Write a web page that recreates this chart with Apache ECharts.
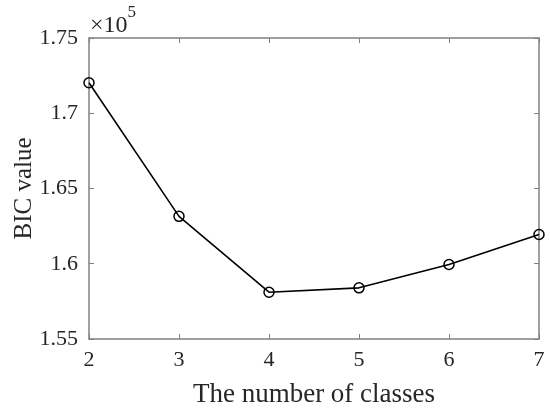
<!DOCTYPE html>
<html>
<head>
<meta charset="utf-8">
<script src="https://cdn.jsdelivr.net/npm/echarts@6/dist/echarts.min.js"></script>
<style>html,body{margin:0;padding:0;background:#fff}#c{width:550px;height:410px}</style>
</head>
<body>
<div id="c"></div>
<script>
const classes = [2, 3, 4, 5, 6, 7];
const bicValues = [1.7203, 1.6315, 1.5811, 1.5840, 1.5995, 1.6194]; // ×10^5
const yTicks = ['1.55', '1.6', '1.65', '1.7', '1.75'];

const font = '"Liberation Serif", "Times New Roman", serif';
const axisGray = '#808080';
const textCol = '#262626';

const chart = echarts.init(document.getElementById('c'), null, {renderer: 'canvas'});
const baseX = {
  type: 'value', min: 2, max: 7, interval: 1,
  axisLine: {show: true, lineStyle: {color: axisGray, width: 1.5}},
  axisTick: {show: true, inside: true, length: 5, lineStyle: {color: axisGray, width: 1}},
  splitLine: {show: false}
};
const baseY = {
  type: 'value', min: 1.55, max: 1.75, interval: 0.05,
  axisLine: {show: true, lineStyle: {color: axisGray, width: 1.5}},
  axisTick: {show: true, inside: true, length: 5, lineStyle: {color: axisGray, width: 1}},
  splitLine: {show: false}
};
chart.setOption({
  animation: false,
  backgroundColor: '#fff',
  grid: {left: 89, right: 11, top: 38, bottom: 71, containLabel: false, outerBoundsMode: 'none'},
  xAxis: [
    Object.assign({}, baseX, {
      position: 'bottom',
      name: 'The number of classes', nameLocation: 'middle', nameGap: 42, nameMoveOverlap: false,
      nameTextStyle: {fontFamily: font, fontSize: 27, color: textCol},
      axisLabel: {fontFamily: font, fontSize: 22, color: textCol, margin: 10}
    }),
    Object.assign({}, baseX, {position: 'top', axisLabel: {show: false}})
  ],
  yAxis: [
    Object.assign({}, baseY, {
      position: 'left',
      name: 'BIC value', nameLocation: 'middle', nameGap: 52, nameMoveOverlap: false,
      nameTextStyle: {fontFamily: font, fontSize: 25, color: textCol},
      axisLabel: {fontFamily: font, fontSize: 22, color: textCol, margin: 11,
        formatter: function (v) {
          const idx = Math.round((v - 1.55) / 0.05);
          return yTicks[idx] !== undefined ? yTicks[idx] : '';
        }}
    }),
    Object.assign({}, baseY, {position: 'right', axisLabel: {show: false}})
  ],
  graphic: [{
    type: 'text', left: 90, top: 4,
    style: {
      text: '{a|×10}{b|5}',
      rich: {
        a: {fontFamily: font, fontSize: 24, fill: textCol, verticalAlign: 'bottom', padding: [10, 0, 0, 0]},
        b: {fontFamily: font, fontSize: 17, fill: textCol, verticalAlign: 'top', padding: [0, 0, 13, 0]}
      }
    }
  }],
  series: [{
    type: 'line',
    data: classes.map((c, i) => [c, bicValues[i]]),
    symbol: 'circle', symbolSize: 10,
    itemStyle: {color: 'transparent', borderColor: '#000', borderWidth: 1.5},
    lineStyle: {color: '#000', width: 1.6},
    z: 5
  }]
});
</script>
</body>
</html>
